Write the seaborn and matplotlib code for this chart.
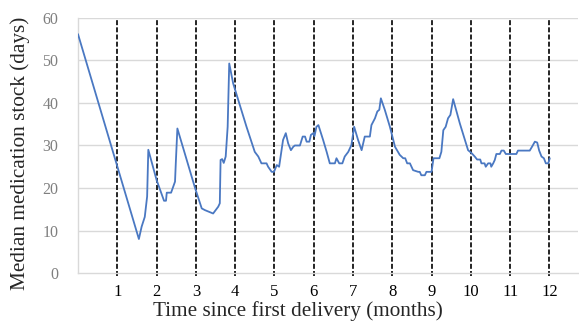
import numpy as np
import pandas as pd
import matplotlib
matplotlib.use("Agg")
import matplotlib.pyplot as plt
import seaborn as sns

# time since first delivery (months) and median stock (days)
months = [0.0, 1.55, 1.62, 1.70, 1.76, 1.79, 2.0, 2.19, 2.24, 2.26, 2.37, 2.47, 2.49, 2.53,
          2.98, 3.15, 3.23, 3.44, 3.57, 3.61, 3.63, 3.67, 3.71, 3.76, 3.81, 3.85,
          3.95, 4.08, 4.29, 4.5, 4.59, 4.67, 4.8, 4.84, 4.93, 4.99, 5.06, 5.12,
          5.22, 5.29, 5.35, 5.42, 5.48, 5.52, 5.65, 5.72, 5.78, 5.82, 5.89, 5.93, 5.99, 6.02, 6.07, 6.12,
          6.24, 6.33, 6.41, 6.54, 6.58, 6.65, 6.73, 6.79, 6.88, 6.96, 7.03,
          7.13, 7.22, 7.3, 7.43, 7.47, 7.56, 7.62, 7.67, 7.71,
          7.81, 7.94, 8.07, 8.19, 8.28, 8.33, 8.38, 8.45, 8.53, 8.66, 8.70, 8.74, 8.83, 8.87, 9.0,
          9.05, 9.2, 9.25, 9.3, 9.36, 9.42, 9.48, 9.55,
          9.72, 9.93, 10.02, 10.10, 10.16, 10.24, 10.27, 10.35, 10.38, 10.44, 10.50, 10.52, 10.57,
          10.61, 10.65, 10.74, 10.78, 10.84, 10.89, 11.16, 11.2, 11.5, 11.57, 11.63, 11.69,
          11.74, 11.80, 11.86, 11.91, 11.97, 12.01]
stock = [56.2, 8.0, 10.9, 13.2, 18.0, 29.0, 21.9, 17.0, 17.0, 18.9, 18.9, 21.5, 25.9, 34.0,
         20.0, 15.2, 14.8, 14.0, 15.6, 16.4, 26.6, 26.8, 25.9, 27.4, 34.4, 49.3,
         44.6, 40.7, 34.4, 28.5, 27.4, 25.8, 25.8, 25.0, 23.8, 23.8, 25.4, 25.0,
         31.3, 32.9, 30.5, 28.9, 29.7, 30.0, 30.0, 32.1, 32.1, 30.9, 30.9, 32.5, 32.9, 32.2, 34.4, 34.8,
         31.3, 28.5, 25.8, 25.8, 27.0, 25.8, 25.8, 27.4, 28.5, 30.1, 34.4,
         31.3, 28.9, 32.1, 32.1, 34.8, 36.4, 38.0, 38.4, 41.1,
         38.4, 34.4, 29.7, 27.8, 27.0, 27.0, 25.8, 25.8, 24.2, 23.8, 23.8, 23.0, 23.0, 23.8, 23.8,
         27.0, 27.0, 28.5, 33.6, 34.4, 36.4, 37.2, 40.9,
         35.2, 28.9, 28.2, 27.4, 26.7, 26.7, 25.8, 25.8, 25.0, 25.8, 25.8, 25.0, 25.8,
         26.6, 28.0, 28.0, 28.8, 28.8, 28.0, 28.0, 28.8, 28.8, 29.9, 30.9, 30.7,
         28.8, 27.4, 27.0, 25.8, 25.8, 27.0]
month_marks = [1, 2, 3, 4, 5, 6, 7, 8, 9, 10, 11, 12]
y_ticks = [0, 10, 20, 30, 40, 50, 60]

df = pd.DataFrame({"month": months, "stock": stock})

sns.set_style("white")
plt.rcParams["font.family"] = ["Liberation Serif", "DejaVu Serif"]

fig = plt.figure(figsize=(5.79, 3.21), dpi=100)
ax = fig.add_axes([0.1347, 0.1495, 0.863, 0.7945])

for y in y_ticks[1:]:
    ax.axhline(y, color="#d9d9d9", lw=1, zorder=0)

sns.lineplot(data=df, x="month", y="stock", color="#4a78c2", lw=1.3, ax=ax, zorder=3)

ax.vlines(month_marks, -0.6, 59.6, colors="black", linestyles=(0, (3, 1.3)), lw=1.2, zorder=2,
          clip_on=False)

ax.set_xlim(0, 12.72)
ax.set_ylim(0, 60)
ax.set_xticks(month_marks)
ax.set_xticklabels([str(m) for m in month_marks], fontsize=12, color="black")
ax.set_yticks(y_ticks)
ax.set_yticklabels([str(y) for y in y_ticks], fontsize=11.5, color="#7f7f7f")
ax.tick_params(axis="both", length=0)
ax.tick_params(axis="x", pad=8)
ax.tick_params(axis="y", pad=14)

for s in ["top", "right"]:
    ax.spines[s].set_visible(False)
ax.spines["left"].set_color("#d9d9d9")
ax.spines["bottom"].set_color("#d9d9d9")
ax.spines["left"].set_linewidth(1)
ax.spines["bottom"].set_linewidth(1)

ax.set_xlabel("Time since first delivery (months)", fontsize=15.3)
ax.xaxis.set_label_coords(0.44, -0.11)
ax.set_ylabel("Median medication stock (days)", fontsize=15.3)
ax.yaxis.set_label_coords(-0.096, 0.47)

fig.savefig("out.png", dpi=100)
